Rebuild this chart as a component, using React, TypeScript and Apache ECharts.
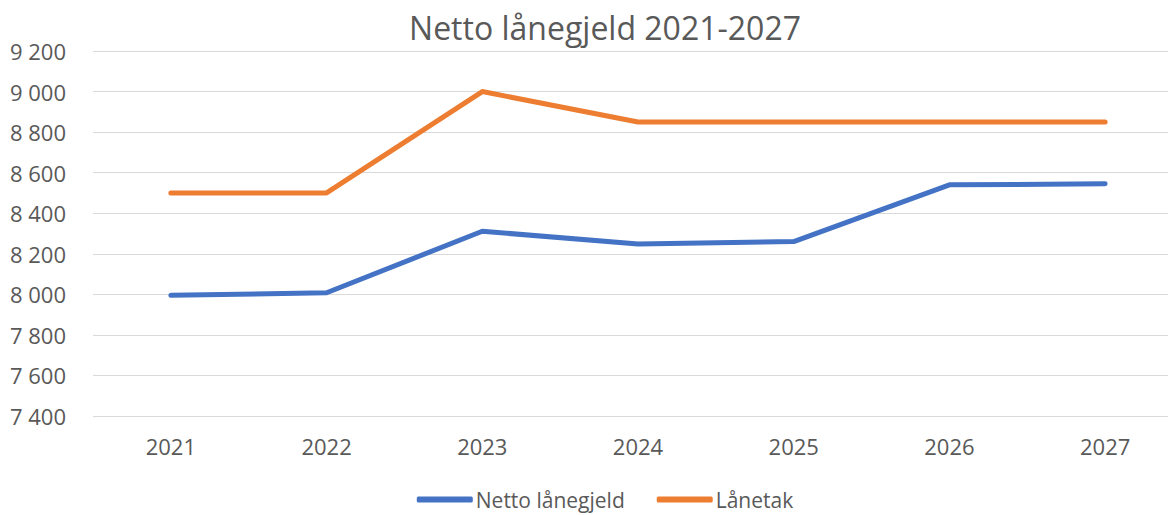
import React, { useEffect, useRef } from "react";
import * as echarts from "echarts";

const years = ["2021", "2022", "2023", "2024", "2025", "2026", "2027"];
const nettoLanegjeld = [7995, 8008, 8311, 8248, 8260, 8540, 8545];
const lanetak = [8500, 8500, 9000, 8850, 8850, 8850, 8850];
const seriesNames = ["Netto lånegjeld", "Lånetak"];
const FONT = "'Open Sans', 'Liberation Sans', sans-serif";
const TEXT = "#595959";

export default function App() {
  const ref = useRef<HTMLDivElement>(null);
  useEffect(() => {
    if (!ref.current) return;
    const chart = echarts.init(ref.current, undefined, { renderer: "svg" });
    chart.setOption({
      animation: false,
      backgroundColor: "#ffffff",
      title: {
        text: "Netto lånegjeld 2021-2027",
        left: "center",
        top: 6,
        textStyle: { color: TEXT, fontFamily: FONT, fontSize: 32, fontWeight: "normal" },
      },
      legend: {
        bottom: 0,
        left: "center",
        itemGap: 32,
        itemWidth: 56,
        itemHeight: 6,
        icon: "roundRect",
        textStyle: { color: TEXT, fontFamily: FONT, fontSize: 21, padding: [0, 0, 0, -2] },
        data: seriesNames,
      },
      grid: { left: 93, right: 27, top: 51, bottom: 99 },
      xAxis: {
        type: "category",
        data: years,
        boundaryGap: true,
        axisLine: { show: false },
        axisTick: { show: false },
        axisLabel: { color: TEXT, fontFamily: FONT, fontSize: 22, margin: 19 },
      },
      yAxis: {
        type: "value",
        min: 7400,
        max: 9200,
        interval: 200,
        axisLine: { show: false },
        axisTick: { show: false },
        splitLine: { lineStyle: { color: "#d9d9d9", width: 1 } },
        axisLabel: {
          color: TEXT,
          fontFamily: FONT,
          fontSize: 22,
          margin: 27,
          formatter: (v: number) => String(v).replace(/\B(?=(\d{3})+(?!\d))/g, " "),
        },
      },
      series: [
        {
          name: seriesNames[0],
          type: "line",
          data: nettoLanegjeld,
          symbol: "none",
          color: "#4472C4",
          lineStyle: { width: 5, color: "#4472C4", cap: "round", join: "round" },
        },
        {
          name: seriesNames[1],
          type: "line",
          data: lanetak,
          symbol: "none",
          color: "#ED7D31",
          lineStyle: { width: 5, color: "#ED7D31", cap: "round", join: "round" },
        },
      ],
    });
    return () => chart.dispose();
  }, []);
  return (
    <div style={{ position: "absolute", left: 0, top: 0, width: 1168, height: 515, overflow: "hidden", background: "#fff" }}>
      <div ref={ref} style={{ width: 1210, height: 515 }} />
    </div>
  );
}
